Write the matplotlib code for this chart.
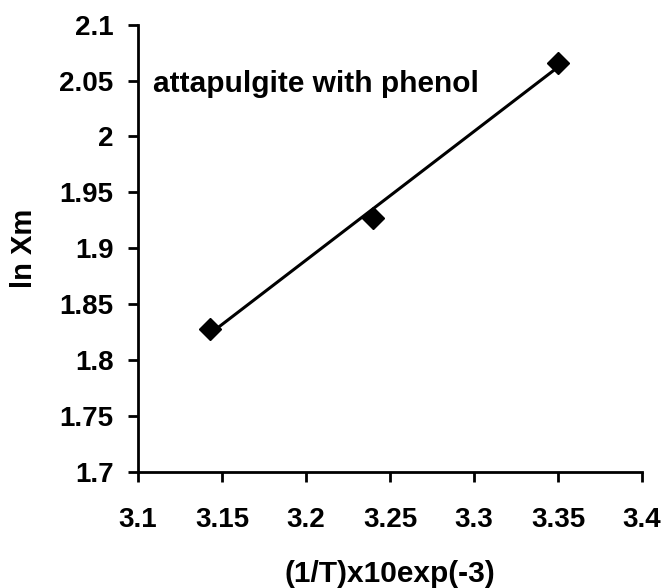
import numpy as np
import matplotlib.pyplot as plt

inv_T = [3.143, 3.240, 3.350]
ln_xm = [1.828, 1.927, 2.066]
x_ticks = [3.1, 3.15, 3.2, 3.25, 3.3, 3.35, 3.4]
y_ticks = [1.7, 1.75, 1.8, 1.85, 1.9, 1.95, 2.0, 2.05, 2.1]
x_labels = ['3.1', '3.15', '3.2', '3.25', '3.3', '3.35', '3.4']
y_labels = ['1.7', '1.75', '1.8', '1.85', '1.9', '1.95', '2', '2.05', '2.1']

plt.rcParams['font.family'] = ['Liberation Sans', 'DejaVu Sans']
plt.rcParams['font.weight'] = 'bold'

fig = plt.figure(figsize=(6.65, 5.88), dpi=100)
ax = fig.add_axes([0.2075, 0.198, 0.758, 0.760])

# linear trendline through the points
slope, intercept = np.polyfit(inv_T, ln_xm, 1)
xs = np.array([min(inv_T), max(inv_T)])
ax.plot(xs, slope * xs + intercept, color='black', lw=2.2)
ax.plot(inv_T, ln_xm, linestyle='none', marker='D', color='black', markersize=11.5)

ax.text(3.1089, 2.047, 'attapulgite with phenol', fontsize=21.5, fontweight='bold', va='center')

ax.set_xlim(3.1, 3.4)
ax.set_ylim(1.7, 2.1)
ax.set_xticks(x_ticks)
ax.set_xticklabels(x_labels)
ax.set_yticks(y_ticks)
ax.set_yticklabels(y_labels)
ax.tick_params(direction='out', length=7.5, width=2, labelsize=20, pad=10)
ax.tick_params(axis='x', pad=18)
for s in ['top', 'right']:
    ax.spines[s].set_visible(False)
for s in ['left', 'bottom']:
    ax.spines[s].set_linewidth(2)

ax.set_xlabel('(1/T)x10exp(-3)', fontsize=21.5, fontweight='bold', va='center')
ax.set_ylabel('ln Xm', fontsize=21, fontweight='bold', va='center')
ax.xaxis.set_label_coords(0.5, -0.229)
ax.yaxis.set_label_coords(-0.226, 0.5)

fig.savefig('out.png', dpi=100)
